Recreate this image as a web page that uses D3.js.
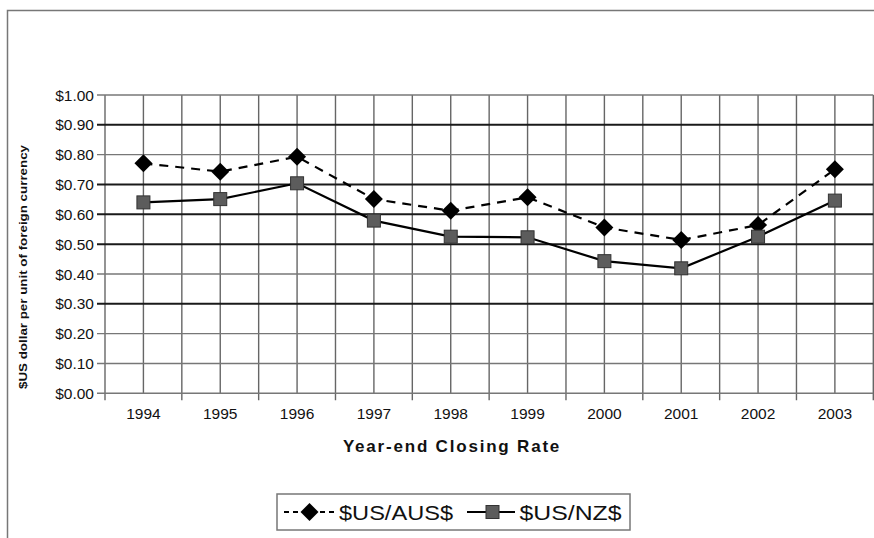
<!DOCTYPE html>
<html>
<head>
<meta charset="utf-8">
<script src="https://cdn.jsdelivr.net/npm/d3@7"></script>
<style>
  body { margin: 0; background: #fff; }
  text { font-family: "Liberation Sans", Arial, sans-serif; fill: #111; }
</style>
</head>
<body>
<svg id="chart" width="874" height="538"></svg>
<script>
// data
const years = ["1994", "1995", "1996", "1997", "1998", "1999", "2000", "2001", "2002", "2003"];
const ausValues = [0.771, 0.743, 0.793, 0.651, 0.612, 0.657, 0.556, 0.514, 0.564, 0.751];
const nzValues = [0.640, 0.651, 0.704, 0.579, 0.525, 0.523, 0.443, 0.419, 0.525, 0.646];
const yTicks = [0, 0.1, 0.2, 0.3, 0.4, 0.5, 0.6, 0.7, 0.8, 0.9, 1.0];
const heavyTicks = [0.3, 0.5, 0.6, 0.7, 0.9]; // these print darker in the scan
const seriesNames = ["$US/AUS$", "$US/NZ$"];

const w = 874, h = 538;
const svg = d3.select("#chart");

// outer frame (top + left only, rest is cut off)
svg.append("path")
  .attr("d", "M7.5,538 V10.5 H874")
  .attr("fill", "none")
  .attr("stroke", "#777")
  .attr("stroke-width", 1.5);

const x = d3.scaleBand().domain(years).range([105, 873.3]).padding(0);
const y = d3.scaleLinear().domain([0, 1]).range([393.3, 95]);
const cx = d => x(d) + x.bandwidth() / 2;

const grid = svg.append("g");

// vertical grid: category centres and boundaries
grid.selectAll("line.vc")
  .data(years)
  .join("line")
  .attr("class", "vc")
  .attr("x1", cx).attr("x2", cx)
  .attr("y1", y(1)).attr("y2", y(0))
  .attr("stroke", "#666").attr("stroke-width", 1.4);

const bounds = years.map(d => x(d)).concat([x.range()[1]]);
grid.selectAll("line.vb")
  .data(bounds)
  .join("line")
  .attr("class", "vb")
  .attr("x1", d => d).attr("x2", d => d)
  .attr("y1", y(1)).attr("y2", y(0) + 7)
  .attr("stroke", "#666").attr("stroke-width", 1.4);

// horizontal grid
grid.selectAll("line.h")
  .data(yTicks)
  .join("line")
  .attr("class", "h")
  .attr("x1", 97).attr("x2", x.range()[1])
  .attr("y1", d => y(d)).attr("y2", d => y(d))
  .attr("stroke", d => heavyTicks.includes(d) ? "#1a1a1a" : "#777")
  .attr("stroke-width", d => heavyTicks.includes(d) ? 2 : 1.4);

// y axis labels
svg.append("g")
  .selectAll("text")
  .data(yTicks)
  .join("text")
  .attr("x", 94)
  .attr("y", d => y(d))
  .attr("dy", "0.36em")
  .attr("text-anchor", "end")
  .style("font-size", "15.5px")
  .text(d => "$" + d3.format(".2f")(d));

// x axis labels
svg.append("g")
  .selectAll("text")
  .data(years)
  .join("text")
  .attr("x", cx)
  .attr("y", 419)
  .attr("text-anchor", "middle")
  .style("font-size", "15.5px")
  .text(d => d);

// axis titles
svg.append("text")
  .attr("x", 452)
  .attr("y", 452)
  .attr("text-anchor", "middle")
  .style("font-size", "17px")
  .style("font-weight", "bold")
  .style("letter-spacing", "1.8px")
  .text("Year-end Closing Rate");

svg.append("text")
  .attr("transform", "translate(27,267) rotate(-90)")
  .attr("text-anchor", "middle")
  .attr("textLength", 244)
  .attr("lengthAdjust", "spacingAndGlyphs")
  .style("font-size", "11.5px")
  .style("font-weight", "bold")
  .text("$US dollar per unit of foreign currency");

// lines
const line = d3.line().x((d, i) => cx(years[i])).y(d => y(d));

svg.append("path")
  .datum(ausValues)
  .attr("d", line)
  .attr("fill", "none")
  .attr("stroke", "#000")
  .attr("stroke-width", 2.2)
  .attr("stroke-dasharray", "9,7");

svg.append("path")
  .datum(nzValues)
  .attr("d", line)
  .attr("fill", "none")
  .attr("stroke", "#000")
  .attr("stroke-width", 2.2);

const diamond = r => `M0,${-r}L${r},0L0,${r}L${-r},0Z`;

svg.append("g")
  .selectAll("path")
  .data(ausValues)
  .join("path")
  .attr("transform", (d, i) => `translate(${cx(years[i])},${y(d)})`)
  .attr("d", diamond(9))
  .attr("fill", "#000");

svg.append("g")
  .selectAll("rect")
  .data(nzValues)
  .join("rect")
  .attr("x", (d, i) => cx(years[i]) - 6.5)
  .attr("y", d => y(d) - 6.5)
  .attr("width", 13).attr("height", 13)
  .attr("fill", "#5c5c5c")
  .attr("stroke", "#333")
  .attr("stroke-width", 1);

// legend
const lg = svg.append("g");
lg.append("rect")
  .attr("x", 277).attr("y", 494)
  .attr("width", 353).attr("height", 36)
  .attr("fill", "#fff")
  .attr("stroke", "#777")
  .attr("stroke-width", 1.5);

lg.append("line")
  .attr("x1", 284).attr("x2", 335)
  .attr("y1", 512).attr("y2", 512)
  .attr("stroke", "#000").attr("stroke-width", 2.2)
  .attr("stroke-dasharray", "5,4");
lg.append("path")
  .attr("transform", "translate(309.5,512)")
  .attr("d", diamond(9))
  .attr("fill", "#000");
lg.append("text")
  .attr("x", 339).attr("y", 520)
  .attr("textLength", 114)
  .attr("lengthAdjust", "spacingAndGlyphs")
  .style("font-size", "21px")
  .text(seriesNames[0]);

lg.append("line")
  .attr("x1", 467).attr("x2", 515)
  .attr("y1", 512).attr("y2", 512)
  .attr("stroke", "#000").attr("stroke-width", 2.2);
lg.append("rect")
  .attr("x", 486).attr("y", 505.5)
  .attr("width", 13).attr("height", 13)
  .attr("fill", "#5c5c5c")
  .attr("stroke", "#333");
lg.append("text")
  .attr("x", 519.5).attr("y", 520)
  .attr("textLength", 102)
  .attr("lengthAdjust", "spacingAndGlyphs")
  .style("font-size", "21px")
  .text(seriesNames[1]);
</script>
</body>
</html>
